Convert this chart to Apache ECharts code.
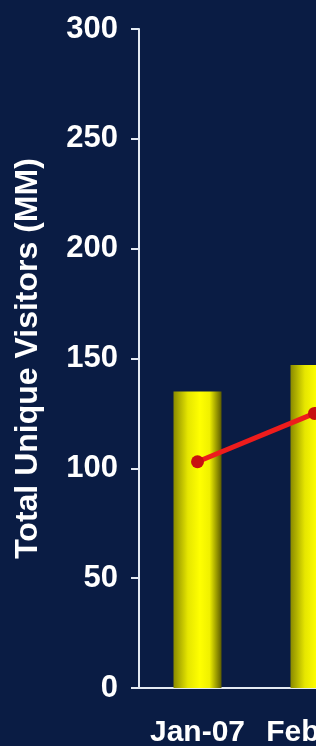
<!DOCTYPE html>
<html>
<head>
<meta charset="utf-8">
<script src="https://cdn.jsdelivr.net/npm/echarts@6/dist/echarts.min.js"></script>
<style>
	html, body { margin: 0; padding: 0; background: #0a1c44; }
	#main { width: 316px; height: 746px; }
</style>
</head>
<body>
<div id="main"></div>
<script>
var months = ['Jan-07', 'Feb-07'];
var visitors = [135, 147];
var lineValues = [103, 125];
var yTicks = [0, 50, 100, 150, 200, 250, 300];

var myChart = echarts.init(document.getElementById('main'));
var font = "'Liberation Sans', Arial, sans-serif";
var axisColor = '#e4eaf2';

// 条形渐变
var barColor = new echarts.graphic.LinearGradient(0, 0, 1, 0, [
	{offset: 0, color: '#8a8a00'},
	{offset: 0.3, color: '#e6e600'},
	{offset: 0.55, color: '#ffff00'},
	{offset: 0.75, color: '#f0f000'},
	{offset: 1, color: '#5c5c00'}
]);

myChart.setOption({
	backgroundColor: '#0a1c44',
	animation: false,
	grid: {
		left: 139,
		top: 29,
		bottom: 58,
		width: 234,
		containLabel: false,
		outerBoundsMode: 'none'
	},
	xAxis: {
		type: 'category',
		data: months,
		boundaryGap: true,
		axisLine: {lineStyle: {color: axisColor, width: 2}},
		axisTick: {length: 7, lineStyle: {color: axisColor, width: 2}},
		axisLabel: {
			color: '#ffffff',
			fontFamily: font,
			fontWeight: 'bold',
			fontSize: 30,
			margin: 30,
			interval: 0
		}
	},
	yAxis: {
		type: 'value',
		min: yTicks[0],
		max: yTicks[yTicks.length - 1],
		interval: yTicks[1] - yTicks[0],
		name: 'Total Unique Visitors (MM)',
		nameLocation: 'middle',
		nameRotate: 90,
		nameGap: 95,
		nameTextStyle: {
			color: '#ffffff',
			fontFamily: font,
			fontWeight: 'bold',
			fontSize: 32
		},
		axisLine: {show: true, lineStyle: {color: axisColor, width: 2}},
		axisTick: {show: true, length: 8, lineStyle: {color: axisColor, width: 2}},
		splitLine: {show: false},
		axisLabel: {
			color: '#ffffff',
			fontFamily: font,
			fontWeight: 'bold',
			fontSize: 31,
			margin: 21
		}
	},
	series: [{
		name: 'Visitors',
		type: 'bar',
		barWidth: 48,
		itemStyle: {color: barColor},
		data: visitors
	}, {
		name: 'Line',
		type: 'line',
		symbol: 'circle',
		symbolSize: 13,
		lineStyle: {color: '#ee1c1c', width: 5},
		itemStyle: {color: '#c81010'},
		data: lineValues
	}]
});
</script>
</body>
</html>
